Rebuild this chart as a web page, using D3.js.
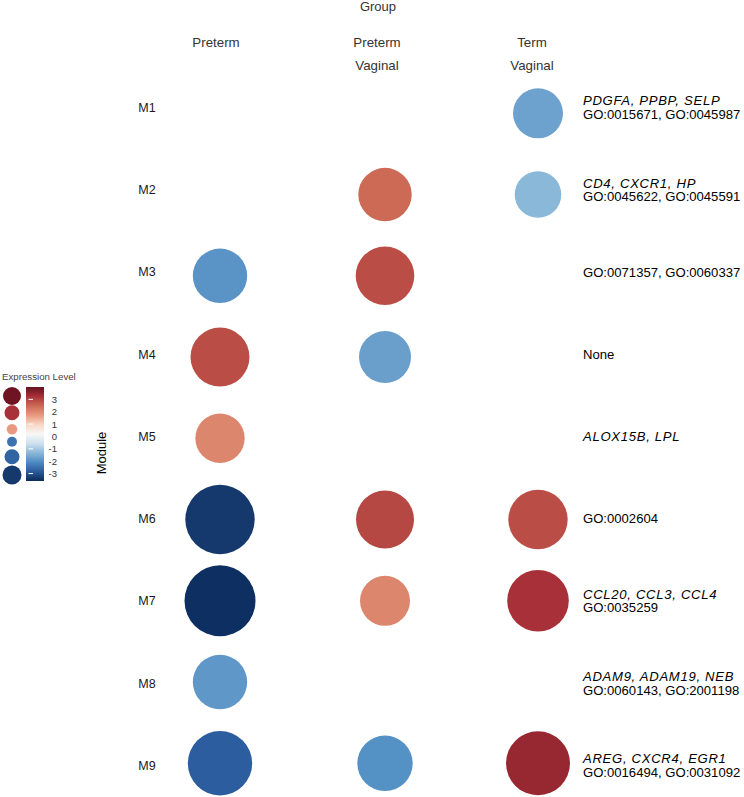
<!DOCTYPE html>
<html>
<head>
<meta charset="utf-8">
<script src="https://cdn.jsdelivr.net/npm/d3@7"></script>
<style>
html,body{margin:0;padding:0;background:#fff;}
svg{display:block;font-family:"Liberation Sans",Arial,Helvetica,sans-serif;}
</style>
</head>
<body>
<svg id="chart" width="744" height="797"></svg>
<script>
// ---- data ----
const modules = ["M1","M2","M3","M4","M5","M6","M7","M8","M9"];
const groups = ["Preterm","Preterm Vaginal","Term Vaginal"];
const groupLabelLines = [["Preterm"],["Preterm","Vaginal"],["Term","Vaginal"]];
// expression level (colour), null = no circle
const pretermValues        = [null, null, -1.93, 2.86, 2.02, -3.37, -3.52, -1.89, -2.80];
const pretermVaginalValues = [null, 2.48, 2.86, -1.74, null, 2.94, 2.02, null, -2.00];
const termVaginalValues    = [-1.70, -1.32, null, null, null, 2.86, 3.24, null, 3.43];
// circle size metric
const pretermSizes        = [null, null, 6.04, 7.10, 4.98, 9.83, 10.29, 6.04, 8.46];
const pretermVaginalSizes = [null, 5.82, 7.01, 5.52, null, 6.87, 5.10, null, 6.26];
const termVaginalSizes    = [5.10, 4.43, null, null, null, 7.20, 7.74, null, 8.36];
// annotation text
const geneLines = ["PDGFA, PPBP, SELP","CD4, CXCR1, HP","","","ALOX15B, LPL","","CCL20, CCL3, CCL4","ADAM9, ADAM19, NEB","AREG, CXCR4, EGR1"];
const goLines   = ["GO:0015671, GO:0045987","GO:0045622, GO:0045591","GO:0071357, GO:0060337","None","","GO:0002604","GO:0035259","GO:0060143, GO:2001198","GO:0016494, GO:0031092"];
// legend
const colorLimits = [-3.6, 4.0];
const colorTicks = [3, 2, 1, 0, -1, -2, -3];
const colorTickMarks = [3, 1, -1, -3];
const legendKeyValues = [3.92, 3.24, 1.72, -2.46, -2.7, -3.37];
const legendKeySizes  = [8.1, 5.6, 2.8, 2.5, 5.6, 9.0];
const palette = ["#0b2a5a","#2a5b9c","#4d8cc3","#8ab8d8","#cfe1ee","#f7f7f7","#f9d7c6","#e8997f","#cc6a55","#a83038","#67111f"];

const valueSeries = [pretermValues, pretermVaginalValues, termVaginalValues];
const sizeSeries = [pretermSizes, pretermVaginalSizes, termVaginalSizes];
const cells = [];
groups.forEach((g, gi) => modules.forEach((m, mi) => {
  if (valueSeries[gi][mi] !== null) cells.push({group: g, module: m, value: valueSeries[gi][mi], size: sizeSeries[gi][mi]});
}));

// ---- scales ----
const svg = d3.select("#chart");
const x = d3.scaleOrdinal().domain(groups).range([220, 385, 538]);
const y = d3.scalePoint().domain(modules).range([113.3, 763.3]);
const yText = d3.scalePoint().domain(modules).range([107.5, 765.5]);
const r = d3.scaleSqrt().domain([0, 10]).range([0, 35]);
const color = d3.scaleLinear()
  .domain(d3.range(palette.length).map(i => colorLimits[0] + i * (colorLimits[1] - colorLimits[0]) / (palette.length - 1)))
  .range(palette).interpolate(d3.interpolateLab);

// ---- titles ----
svg.append("text").attr("x", 378).attr("y", 11).attr("text-anchor", "middle")
  .attr("font-size", 13).attr("fill", "#333").text("Group");
groups.forEach((g, i) => {
  const hx = x(g) - (i === 0 ? 4 : i === 1 ? 8 : 6);
  groupLabelLines[i].forEach((line, li) => {
    svg.append("text").attr("x", hx).attr("y", 47 + li * 23).attr("text-anchor", "middle")
      .attr("font-size", 13.3).attr("fill", "#333").text(line);
  });
});

// module labels
svg.append("g").selectAll("text").data(modules).join("text")
  .attr("x", 147).attr("y", d => yText(d) + 4.3).attr("text-anchor", "middle")
  .attr("font-size", 12.5).attr("fill", "#1a1a1a").text(d => d);

svg.append("text").attr("transform", "translate(106,453) rotate(-90)")
  .attr("text-anchor", "middle").attr("font-size", 13).attr("fill", "#000").text("Module");

// ---- circles ----
svg.append("g").selectAll("circle").data(cells).join("circle")
  .attr("cx", d => x(d.group)).attr("cy", d => y(d.module))
  .attr("r", d => r(d.size)).attr("fill", d => color(d.value));

// ---- annotations ----
const ann = svg.append("g").attr("font-size", 13.1).attr("fill", "#000");
modules.forEach((m, i) => {
  const lines = [];
  if (geneLines[i]) lines.push({t: geneLines[i], it: true});
  if (goLines[i]) lines.push({t: goLines[i], it: false});
  const lh = 13.6;
  const y0 = yText(m) - (lines.length - 1) * lh / 2 + 4.6;
  lines.forEach((l, li) => {
    ann.append("text").attr("x", 583).attr("y", y0 + li * lh)
      .attr("font-style", l.it ? "italic" : "normal")
      .attr("letter-spacing", l.it ? 0.7 : 0).text(l.t);
  });
});

// ---- legend ----
const lg = svg.append("g");
lg.append("text").attr("x", 2).attr("y", 380).attr("font-size", 9.7).attr("fill", "#444").text("Expression Level");
const keyY = [396, 412.7, 429.3, 441.7, 456.7, 475];
const rKey = d3.scaleSqrt().domain([0, 10]).range([0, 10]);
lg.selectAll("circle").data(legendKeyValues).join("circle")
  .attr("cx", 12).attr("cy", (d, i) => keyY[i])
  .attr("r", (d, i) => rKey(legendKeySizes[i])).attr("fill", d => color(d));

const barTop = 387, barBottom = 481, barX = 26, barW = 18;
const yBar = d3.scaleLinear().domain(colorLimits).range([barBottom, barTop]);
const defs = svg.append("defs");
const grad = defs.append("linearGradient").attr("id", "cbar").attr("x1", 0).attr("x2", 0).attr("y1", 1).attr("y2", 0);
d3.range(0, 1.0001, 0.02).forEach(t => {
  grad.append("stop").attr("offset", t).attr("stop-color", color(colorLimits[0] + t * (colorLimits[1] - colorLimits[0])));
});
lg.append("rect").attr("x", barX).attr("y", barTop).attr("width", barW).attr("height", barBottom - barTop).attr("fill", "url(#cbar)");
lg.selectAll("line.tm").data(colorTickMarks).join("line").attr("class", "tm")
  .attr("x1", barX + 2.5).attr("x2", barX + 7).attr("y1", d => yBar(d)).attr("y2", d => yBar(d))
  .attr("stroke", "#fff").attr("stroke-width", 1);
lg.selectAll("text.tl").data(colorTicks).join("text").attr("class", "tl")
  .attr("x", 57).attr("y", d => yBar(d) + 3.4).attr("text-anchor", "end")
  .attr("font-size", 9.5).attr("fill", "#333").text(d => d);
</script>
</body>
</html>
